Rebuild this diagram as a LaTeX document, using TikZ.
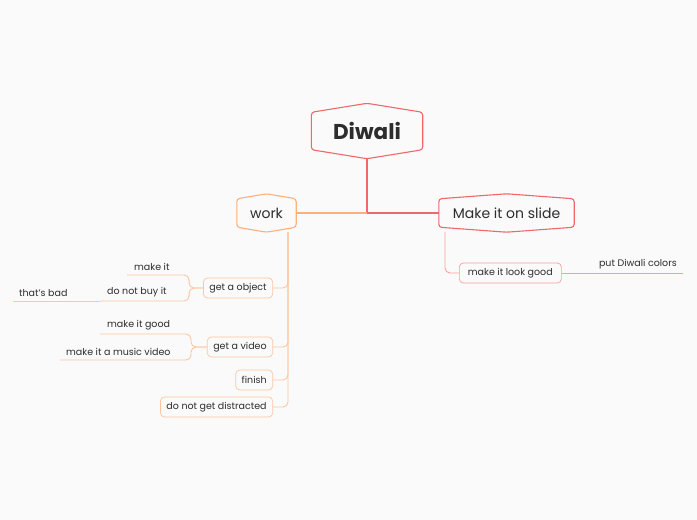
\documentclass[tikz,border=0pt]{standalone}
\usepackage{fontspec}
\setmainfont{Poppins}
\usepackage{xcolor}
\definecolor{mmbg}{RGB}{250,250,251}
\definecolor{mmred}{RGB}{240,104,106}
\definecolor{mmredlt}{RGB}{246,160,160}
\definecolor{mmorange}{RGB}{255,176,122}
\definecolor{mmorangelt}{RGB}{253,198,160}
\definecolor{mmtext}{RGB}{45,45,45}
\usetikzlibrary{calc}
\newcommand{\hexframe}[3]{% node, colour, slant
  \draw[#2,line width=1.1pt,rounded corners=3pt]
    ([yshift=-#3]#1.north west) -- (#1.north) -- ([yshift=-#3]#1.north east)
    -- ([yshift=#3]#1.south east) -- (#1.south) -- ([yshift=#3]#1.south west) -- cycle;}
\begin{document}
\begin{tikzpicture}[x=1pt,y=-1pt,
  topic/.style={inner sep=0pt,text=mmtext,font=\fontsize{21.5}{24}\selectfont\bfseries},
  branch/.style={inner sep=0pt,text=mmtext,font=\fontsize{14}{16}\selectfont},
  sub/.style={draw,rounded corners=4pt,line width=0.7pt,minimum height=20pt,inner xsep=6pt,
    inner ysep=0pt,text=mmtext,font=\fontsize{9.5}{11}\selectfont},
  leaf/.style={anchor=south west,inner xsep=7pt,inner ysep=4pt,text=mmtext,font=\fontsize{9.5}{11}\selectfont},
  wline/.style={mmorangelt,line width=0.9pt,rounded corners=5pt},
  rline/.style={mmredlt,line width=0.9pt,rounded corners=5pt}]
  \fill[mmbg] (0,0) rectangle (697,520);
  % central topic
  \node[topic,minimum width=111pt,minimum height=55pt] (diwali) at (367,131) {Diwali};
  \hexframe{diwali}{mmred}{9pt}
  \coordinate (hub) at (367,213);
  % main branches
  \node[branch,minimum width=59pt,minimum height=38pt] (work) at (266.5,213) {work};
  \hexframe{work}{mmorange}{5pt}
  \node[branch,minimum width=135pt,minimum height=38pt] (slide) at (506.5,213) {Make it on slide};
  \hexframe{slide}{mmred}{5pt}
  \draw[mmred,line width=1.1pt] (diwali.south) -- (hub);
  \draw[mmorange,line width=1.1pt] (hub) -- (work.east);
  \draw[mmred,line width=1.1pt] (hub) -- (slide.west);
  % work
  \node[sub,draw=mmorangelt,anchor=east] (obj) at (273,288) {get a object};
  \node[sub,draw=mmorangelt,anchor=east] (video) at (273,347) {get a video};
  \node[sub,draw=mmorangelt,anchor=east] (finish) at (273,380) {finish};
  \node[sub,draw=mmorangelt,anchor=east] (focus) at (273,407) {do not get distracted};
  \foreach \n in {obj,video,finish,focus}
    \draw[wline] ([xshift=21.5pt]work.south) |- (\n.east);
  \node[leaf] (makeit) at (127,275) {make it};
  \node[leaf] (nobuy) at (100,301) {do not buy it};
  \node[leaf,inner xsep=6pt] (bad) at (13,301) {that's bad};
  \draw[wline] (obj.west) -- ++(-14,0) |- (makeit.south west);
  \draw[wline] (obj.west) -- ++(-14,0) |- (nobuy.south west);
  \draw[wline] (nobuy.south west) -- (bad.south west);
  \node[leaf] (mgood) at (100,334) {make it good};
  \node[leaf,inner xsep=6pt] (music) at (60,360) {make it a music video};
  \draw[wline] (video.west) -- ++(-16,0) |- (mgood.south west);
  \draw[wline] (video.west) -- ++(-16,0) |- (music.south west);
  % make it on slide
  \node[sub,draw=mmredlt,anchor=west,minimum width=102pt] (look) at (459,273) {make it look good};
  \draw[rline] ([xshift=-61.5pt]slide.south) |- (look.west);
  \node[leaf,inner xsep=6pt,anchor=south east] (colors) at (683,273) {put Diwali colors};
  \draw[rline] (look.east) -- (colors.south east);
\end{tikzpicture}
\end{document}
